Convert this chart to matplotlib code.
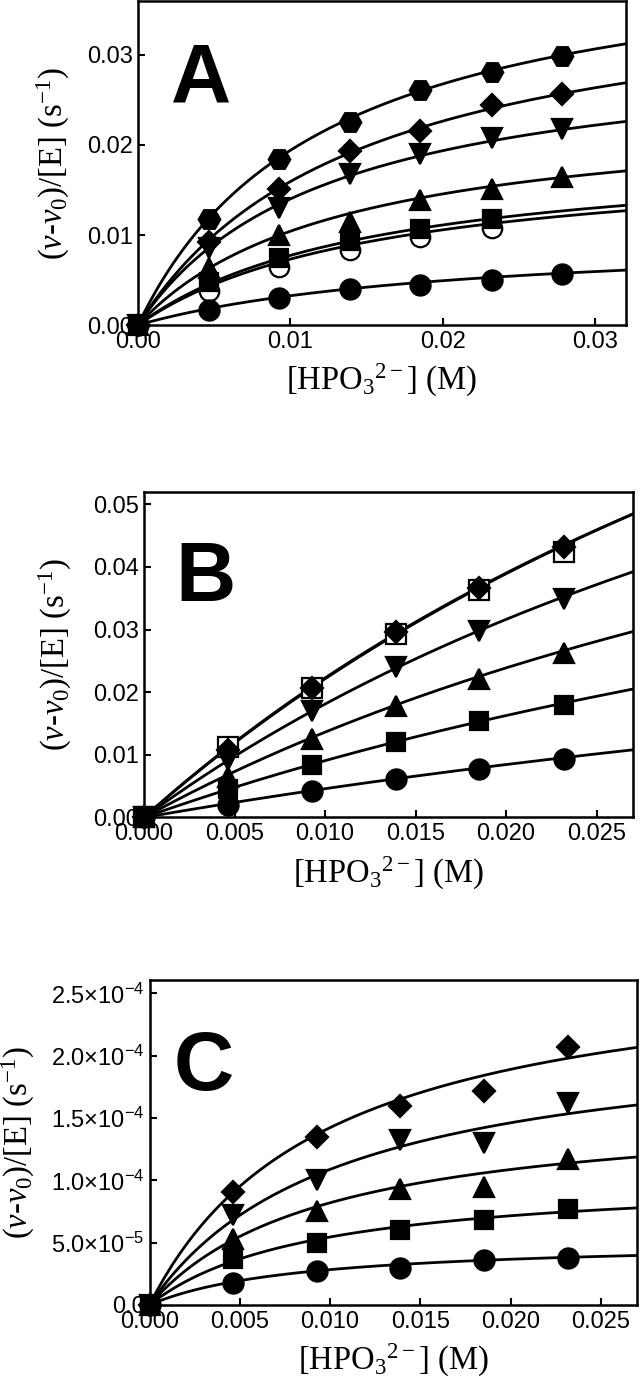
import numpy as np
import matplotlib
matplotlib.use('Agg')
import matplotlib.pyplot as plt
from matplotlib.ticker import FormatStrFormatter, FixedLocator, FixedFormatter

plt.rcParams['font.family'] = ['Liberation Sans', 'DejaVu Sans']
plt.rcParams['mathtext.fontset'] = 'custom'
plt.rcParams['mathtext.rm'] = 'Liberation Serif'
plt.rcParams['mathtext.it'] = 'Liberation Serif:italic'
plt.rcParams['mathtext.default'] = 'regular'

# ---- panel A ----
conc_a = [0, 0.00463, 0.00926, 0.0139, 0.0185, 0.0232, 0.0278]
a_hex = [0, 0.0118, 0.0184, 0.0226, 0.0261, 0.0281, 0.0299]
a_diamond = [0, 0.0092, 0.0151, 0.0193, 0.0216, 0.0244, 0.0257]
a_down = [0, 0.0086, 0.0130, 0.0168, 0.0190, 0.0208, 0.0218]
a_up = [0, 0.0063, 0.0100, 0.0115, 0.0139, 0.0151, 0.0165]
a_square = [0, 0.0048, 0.0074, 0.0093, 0.0107, 0.0118]
a_open = [0, 0.0038, 0.0064, 0.0083, 0.0098, 0.0108]
a_circle = [0, 0.0017, 0.0030, 0.0040, 0.0045, 0.0050, 0.0057]
# fitted curves: vmax, km
a_vmax = [0.0432, 0.03916, 0.03136, 0.02418, 0.01906, 0.01975, 0.01011]
a_km = [0.01225, 0.01456, 0.01237, 0.01319, 0.01602, 0.01552, 0.02103]

# ---- panel B ----
conc_b = [0, 0.00463, 0.00926, 0.0139, 0.0185, 0.0232]
b_open = [0, 0.0113, 0.0207, 0.0293, 0.0363, 0.0424]
b_diamond = [0, 0.0108, 0.0207, 0.0296, 0.0367, 0.0432]
b_down = [0, 0.0092, 0.0170, 0.0240, 0.0298, 0.0348]
b_up = [0, 0.0065, 0.0126, 0.0178, 0.0221, 0.0262]
b_square = [0, 0.0045, 0.0084, 0.0121, 0.0154, 0.0179]
b_circle = [0, 0.0020, 0.0043, 0.0062, 0.0077, 0.0093]
b_vmax = [0.1607, 0.157, 0.1249, 0.0967, 0.079, 0.0525]
b_km = [0.0626, 0.0605, 0.059, 0.061, 0.0771, 0.1043]

# ---- panel C ----
conc_c = [0, 0.00463, 0.00926, 0.0139, 0.0185, 0.0232]
c_diamond = [0, 9.1e-5, 1.35e-4, 1.6e-4, 1.72e-4, 2.07e-4]
c_down = [0, 7.2e-5, 1.0e-4, 1.32e-4, 1.3e-4, 1.62e-4]
c_up = [0, 5.3e-5, 7.5e-5, 9.3e-5, 9.5e-5, 1.17e-4]
c_square = [0, 3.7e-5, 5.0e-5, 6.0e-5, 6.8e-5, 7.7e-5]
c_circle = [0, 1.8e-5, 2.75e-5, 2.95e-5, 3.6e-5, 3.75e-5]
c_vmax = [2.817e-4, 2.227e-4, 1.612e-4, 1.041e-4, 5.19e-5]
c_km = [0.0098, 0.01047, 0.00966, 0.00909, 0.0083]

c_yticks = [0, 5e-5, 1e-4, 1.5e-4, 2e-4, 2.5e-4]
c_ylabels = ['0.0', r'5.0×10$^{-5}$', r'1.0×10$^{-4}$', r'1.5×10$^{-4}$',
             r'2.0×10$^{-4}$', r'2.5×10$^{-4}$']

ylabel = r'($\mathit{\nu}$-$\mathit{\nu}_0$)/[E] (s$^{-1}$)'
xlabel = r'[HPO$_3$$^{2-}$] (M)'

# marker styles: (marker, size, facecolor)
sty = {
    'hex': ('H', 15.5, 'black'),
    'diamond': ('D', 11.5, 'black'),
    'down': ('v', 15, 'black'),
    'up': ('^', 15, 'black'),
    'square': ('s', 13, 'black'),
    'open': ('o', 14, 'white'),
    'opensq': ('s', 14, 'white'),
    'circle': ('o', 14.5, 'black'),
}

fig = plt.figure(figsize=(6.4, 13.79), dpi=100)


def setup(ax, xmax, ymax, letter, letter_xy, ylab_x):
    ax.set_xlim(0, xmax)
    ax.set_ylim(0, ymax)
    for s in ax.spines.values():
        s.set_linewidth(1.8)
    ax.tick_params(direction='in', length=5, width=1.5, labelsize=17)
    ax.tick_params(axis='y', pad=3.5)
    ax.tick_params(axis='x', pad=4)
    ax.text(letter_xy[0], letter_xy[1], letter, transform=ax.transAxes,
            ha='left', va='top', fontsize=60, fontweight='bold')
    ax.set_ylabel(ylabel, fontsize=23.5, family='Liberation Serif', va='center')
    ax.yaxis.set_label_coords(ylab_x, 0.5)
    ax.set_xlabel(xlabel, fontsize=23.5, family='Liberation Serif', va='top')
    ax.xaxis.set_label_coords(0.5, -0.115)


def draw(ax, xs, series, vmax, km, xmax):
    xx = np.linspace(0, xmax, 300)
    for (vals, key), v, k in zip(series, vmax, km):
        ax.plot(xx, v * xx / (k + xx), color='black', lw=2, zorder=2)
    for vals, key in series:
        m, ms, fc = sty[key]
        ax.plot(xs[:len(vals)], vals, ls='none', marker=m, ms=ms, mfc=fc,
                mec='black', mew=1.6, clip_on=False, zorder=3)


# A  (open circles go under the squares, as in the original)
ax = fig.add_axes([0.2156, 0.7643, 0.7625, 0.2357 - 0.0007])
series = [(a_hex, 'hex'), (a_diamond, 'diamond'), (a_down, 'down'),
          (a_up, 'up'), (a_open, 'open'), (a_square, 'square'),
          (a_circle, 'circle')]
draw(ax, conc_a, series, a_vmax, a_km, 0.032)
setup(ax, 0.032, 0.036, 'A', (0.068, 0.875), -0.174)
ax.xaxis.set_major_locator(FixedLocator([0, 0.01, 0.02, 0.03]))
ax.yaxis.set_major_locator(FixedLocator([0, 0.01, 0.02, 0.03]))
ax.xaxis.set_major_formatter(FormatStrFormatter('%.2f'))
ax.yaxis.set_major_formatter(FormatStrFormatter('%.2f'))

# B
ax = fig.add_axes([0.225, 0.4072, 0.7636, 0.2362])
series = [(b_open, 'opensq'), (b_diamond, 'diamond'), (b_down, 'down'),
          (b_up, 'up'), (b_square, 'square'), (b_circle, 'circle')]
draw(ax, conc_b, series, b_vmax, b_km, 0.027)
setup(ax, 0.027, 0.052, 'B', (0.065, 0.853), -0.182)
ax.xaxis.set_major_locator(FixedLocator([0, 0.005, 0.01, 0.015, 0.02, 0.025]))
ax.yaxis.set_major_locator(FixedLocator([0, 0.01, 0.02, 0.03, 0.04, 0.05]))
ax.xaxis.set_major_formatter(FormatStrFormatter('%.3f'))
ax.yaxis.set_major_formatter(FormatStrFormatter('%.2f'))

# C
ax = fig.add_axes([0.2336, 0.0537, 0.7617, 0.2356])
series = [(c_diamond, 'diamond'), (c_down, 'down'), (c_up, 'up'),
          (c_square, 'square'), (c_circle, 'circle')]
draw(ax, conc_c, series, c_vmax, c_km, 0.027)
setup(ax, 0.027, 2.607e-4, 'C', (0.05, 0.848), -0.268)
ax.xaxis.set_major_locator(FixedLocator([0, 0.005, 0.01, 0.015, 0.02, 0.025]))
ax.xaxis.set_major_formatter(FormatStrFormatter('%.3f'))
ax.yaxis.set_major_locator(FixedLocator(c_yticks))
ax.yaxis.set_major_formatter(FixedFormatter(c_ylabels))

fig.savefig('out.png', dpi=100)
